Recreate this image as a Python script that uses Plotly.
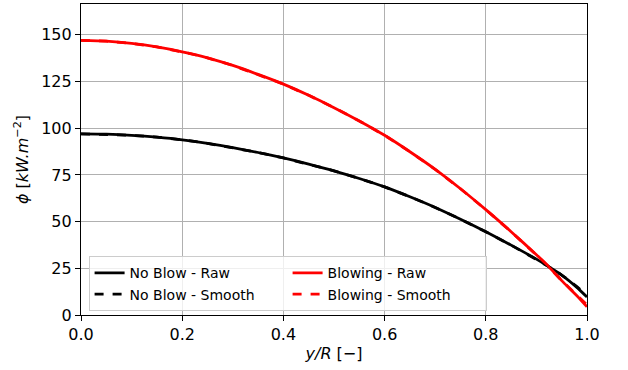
import plotly.graph_objects as go

y_over_R = [0.0, 0.05, 0.1, 0.15, 0.2, 0.25, 0.3, 0.35, 0.4, 0.45, 0.5, 0.55, 0.6, 0.65, 0.7, 0.75, 0.8, 0.85, 0.9, 0.92, 0.95, 0.98, 1.0]

noblow_raw = [97.0, 96.8, 96.2, 95.2, 93.8, 91.9, 89.6, 87.0, 84.1, 80.8, 77.2, 73.1, 68.6, 63.3, 57.6, 51.3, 44.6, 37.4, 29.9, 26.6, 21.4, 14.8, 9.6]
noblow_smooth = [97.0, 96.8, 96.2, 95.2, 93.8, 91.9, 89.6, 87.0, 84.1, 80.8, 77.2, 73.1, 68.6, 63.3, 57.6, 51.3, 44.6, 37.4, 29.9, 26.6, 21.4, 15.2, 10.4]
blow_raw = [147.0, 146.6, 145.4, 143.5, 140.9, 137.7, 133.6, 128.8, 123.6, 117.6, 111.0, 103.9, 96.2, 87.4, 78.0, 67.6, 56.4, 44.6, 32.3, 27.1, 18.4, 10.3, 4.4]
blow_smooth = [147.0, 146.6, 145.4, 143.5, 140.9, 137.7, 133.6, 128.8, 123.6, 117.6, 111.0, 103.9, 96.2, 87.4, 78.0, 67.6, 56.4, 44.6, 32.3, 27.1, 18.4, 10.6, 5.4]

x_ticks = [0.0, 0.2, 0.4, 0.6, 0.8, 1.0]
y_ticks = [0, 25, 50, 75, 100, 125, 150]

fig = go.Figure()
# smooth curves first (drawn underneath), raw curves on top
fig.add_trace(go.Scatter(x=y_over_R, y=noblow_smooth, mode="lines", name="No Blow - Smooth",
                         line=dict(color="black", width=2.8, dash="dash"), legendrank=3))
fig.add_trace(go.Scatter(x=y_over_R, y=blow_smooth, mode="lines", name="Blowing - Smooth",
                         line=dict(color="red", width=2.8, dash="dash"), legendrank=4))
fig.add_trace(go.Scatter(x=y_over_R, y=noblow_raw, mode="lines", name="No Blow - Raw",
                         line=dict(color="black", width=2.8, shape="spline", smoothing=0.6), legendrank=1))
fig.add_trace(go.Scatter(x=y_over_R, y=blow_raw, mode="lines", name="Blowing - Raw",
                         line=dict(color="red", width=2.8, shape="spline", smoothing=0.6), legendrank=2))

axis_common = dict(showline=True, linecolor="black", linewidth=1.2, mirror=True,
                   ticks="outside", ticklen=5, tickwidth=1.2, tickcolor="black",
                   showgrid=True, gridcolor="#b0b0b0", gridwidth=0.8, zeroline=False,
                   automargin=False,
                   tickfont=dict(family="DejaVu Sans", size=16, color="black"))

fig.update_layout(
    width=628, height=370,
    margin=dict(l=81, r=41, t=4, b=55),
    plot_bgcolor="white", paper_bgcolor="white",
    font=dict(family="DejaVu Sans", color="black"),
    xaxis=dict(range=[0, 1], tickvals=x_ticks, ticktext=[f"{v:.1f}" for v in x_ticks],
               title=dict(text="<i>y/R</i> [−]", font=dict(size=16), standoff=4), **axis_common),
    yaxis=dict(range=[0, 166.5], tickvals=y_ticks,
               title=dict(text="<i>ϕ</i> [<i>kW.m</i><sup>−2</sup>]", font=dict(size=16), standoff=8), **axis_common),
    legend=dict(orientation="h", x=0.015, y=0.012, xanchor="left", yanchor="bottom",
                entrywidth=153, traceorder="normal", tracegroupgap=0,
                bgcolor="rgba(255,255,255,0.8)", bordercolor="#cccccc", borderwidth=1,
                font=dict(family="DejaVu Sans", size=14, color="black")),
    showlegend=True,
)

fig.write_html("out.html", config={"displayModeBar": False},
               post_script="document.body.style.margin='0';document.body.style.overflow='hidden';")
